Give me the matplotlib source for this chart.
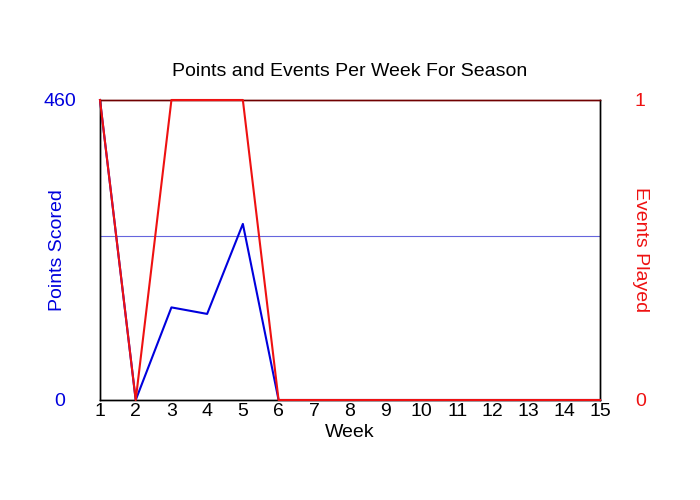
import matplotlib
matplotlib.use("Agg")
import matplotlib.pyplot as plt

plt.rcParams['font.family'] = ['Liberation Sans', 'DejaVu Sans']

# 資料
weeks = list(range(1, 16))
points = [460, 0, 142, 132, 270, 0, 0, 0, 0, 0, 0, 0, 0, 0, 0]
events = [1, 0, 1, 1, 1, 0, 0, 0, 0, 0, 0, 0, 0, 0, 0]
avg_points = 251

fig = plt.figure(figsize=(7, 5), dpi=100)
ax = fig.add_axes([100 / 700, 0.2, 500 / 700, 0.6])
ax2 = ax.twinx()

ax.plot(weeks, points, color='#0000dd', lw=1.5, zorder=3, clip_on=False)
ax.axhline(avg_points, color='#6666dd', lw=0.8, zorder=2)
ax2.plot(weeks, events, color='#ee1111', lw=1.5, zorder=4, clip_on=False)

ax.set_xlim(1, 15)
ax.set_ylim(0, 460)
ax2.set_ylim(0, 1)
ax.set_xticks(weeks)
ax.set_yticks([0, 460])
ax2.set_yticks([0, 1])

fs = 14
ax.tick_params(axis='x', length=0, pad=2, labelsize=fs)
ax.tick_params(axis='y', length=0, pad=29, labelsize=fs, labelcolor='#0000dd')
for lbl in ax.get_yticklabels():
    lbl.set_horizontalalignment('center')
ax2.tick_params(axis='y', length=0, pad=29, labelsize=fs, labelcolor='#ee1111')
for lbl in ax2.get_yticklabels():
    lbl.set_horizontalalignment('center')

ax.set_xlabel('Week', fontsize=fs, labelpad=3)
ax.set_ylabel('Points Scored', fontsize=fs, color='#0000dd', va='center')
ax.yaxis.set_label_coords(-0.084, 0.5)
ax2.set_ylabel('Events Played', fontsize=fs, color='#ee1111', rotation=270, va='center')
ax2.yaxis.set_label_coords(1.08, 0.5)
ax.set_title('Points and Events Per Week For Season', fontsize=fs, pad=17)

for a in (ax, ax2):
    for s in ('left', 'right', 'bottom'):
        a.spines[s].set_color('black')
        a.spines[s].set_linewidth(1)
    a.spines['top'].set_color('#700000')
    a.spines['top'].set_linewidth(1)

fig.savefig('out.png', dpi=100)
